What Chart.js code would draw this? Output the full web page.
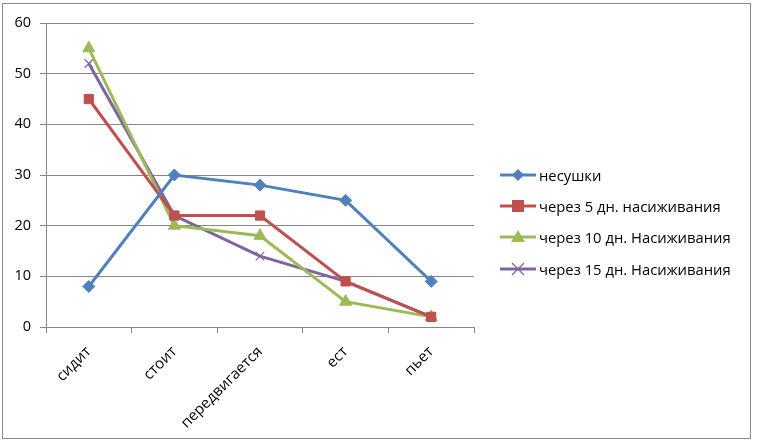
<!DOCTYPE html>
<html><head><meta charset="utf-8">
<script src="https://cdn.jsdelivr.net/npm/chart.js@4/dist/chart.umd.min.js"></script>
<style>
html,body{margin:0;padding:0;background:#fff;}
#wrap{position:relative;width:757px;height:444px;}
#frame{position:absolute;left:2px;top:3px;width:749px;height:436px;border:1px solid #8a8a8a;box-sizing:border-box;pointer-events:none;}
#c{position:absolute;left:0;top:0;}
#legend{position:absolute;left:500px;top:159px;font-family:"Open Sans",sans-serif;font-size:14.8px;color:#000;}
.item{height:31.3px;display:flex;align-items:center;white-space:nowrap;}
.item svg{margin-right:3px;}
</style></head>
<body>
<div id="wrap">
<canvas id="c" width="757" height="444"></canvas>
<div id="frame"></div>
<div id="legend"></div>
</div>
<script>
const categories = ["сидит","стоит","передвигается","ест","пьет"];
const seriesNames = ["несушки","через 5 дн. насиживания","через 10 дн. Насиживания","через 15 дн. Насиживания"];
const nesushki = [8,30,28,25,9];
const day5 = [45,22,22,9,2];
const day10 = [55,20,18,5,2];
const day15 = [52,22,14,9,2];
const yTicks = [0,10,20,30,40,50,60];

const colors = ["#4F81BD","#C0504D","#9BBB59","#8064A2"];
const styles = ["rectRot","rect","triangle","crossRot"];
const radii = [6,6.5,7,6];
const values = [nesushki, day5, day10, day15];

const datasets = values.map((v,i)=>({
  label: seriesNames[i],
  data: v,
  borderColor: colors[i],
  backgroundColor: colors[i],
  borderWidth: 3,
  pointStyle: styles[i],
  pointRadius: radii[i],
  pointHoverRadius: radii[i],
  pointBorderWidth: i===3 ? 1.2 : 1,
  pointBackgroundColor: colors[i],
  pointBorderColor: colors[i],
  tension: 0
}));

new Chart(document.getElementById('c'), {
  type: 'line',
  data: { labels: categories, datasets },
  options: {
    responsive: false,
    animation: false,
    layout: { padding: { top: 23, right: 283, left: 0, bottom: 0 } },
    plugins: { legend: { display: false }, tooltip: { enabled: false } },
    scales: {
      x: {
        offset: true,
        grid: { offset: true, drawOnChartArea: false, drawTicks: true, tickLength: 6, color: '#868686' },
        border: { color: '#868686', width: 1 },
        ticks: { maxRotation: 45, minRotation: 45, font: { family: 'Open Sans', size: 15 }, color: '#000', padding: 10 },
        afterFit: s => { s.height = 117; }
      },
      y: {
        min: 0, max: 60,
        afterBuildTicks: s => { s.ticks = yTicks.map(v => ({ value: v })); },
        grid: { color: '#868686', tickLength: 6 },
        border: { color: '#868686', width: 1 },
        ticks: { font: { family: 'Open Sans', size: 14.5 }, color: '#000', padding: 9 },
        afterFit: s => { s.width = 46; }
      }
    }
  }
});

// legend
const lg = document.getElementById('legend');
const markerSvg = i => {
  const c = colors[i];
  let m = '';
  if (i===0) m = `<polygon points="18,1 24,7 18,13 12,7" fill="${c}"/>`;
  if (i===1) m = `<rect x="12" y="1" width="12" height="12" fill="${c}"/>`;
  if (i===2) m = `<polygon points="18,0 25,12 11,12" fill="${c}"/>`;
  if (i===3) m = `<path d="M12,1 L24,13 M24,1 L12,13" stroke="${c}" stroke-width="1.2"/>`;
  return `<svg width="36" height="14"><line x1="0" y1="7" x2="36" y2="7" stroke="${c}" stroke-width="3"/>${m}</svg>`;
};
seriesNames.forEach((n,i)=>{
  const d = document.createElement('div');
  d.className = 'item';
  d.innerHTML = markerSvg(i) + '<span>' + n + '</span>';
  lg.appendChild(d);
});
</script>
</body></html>
